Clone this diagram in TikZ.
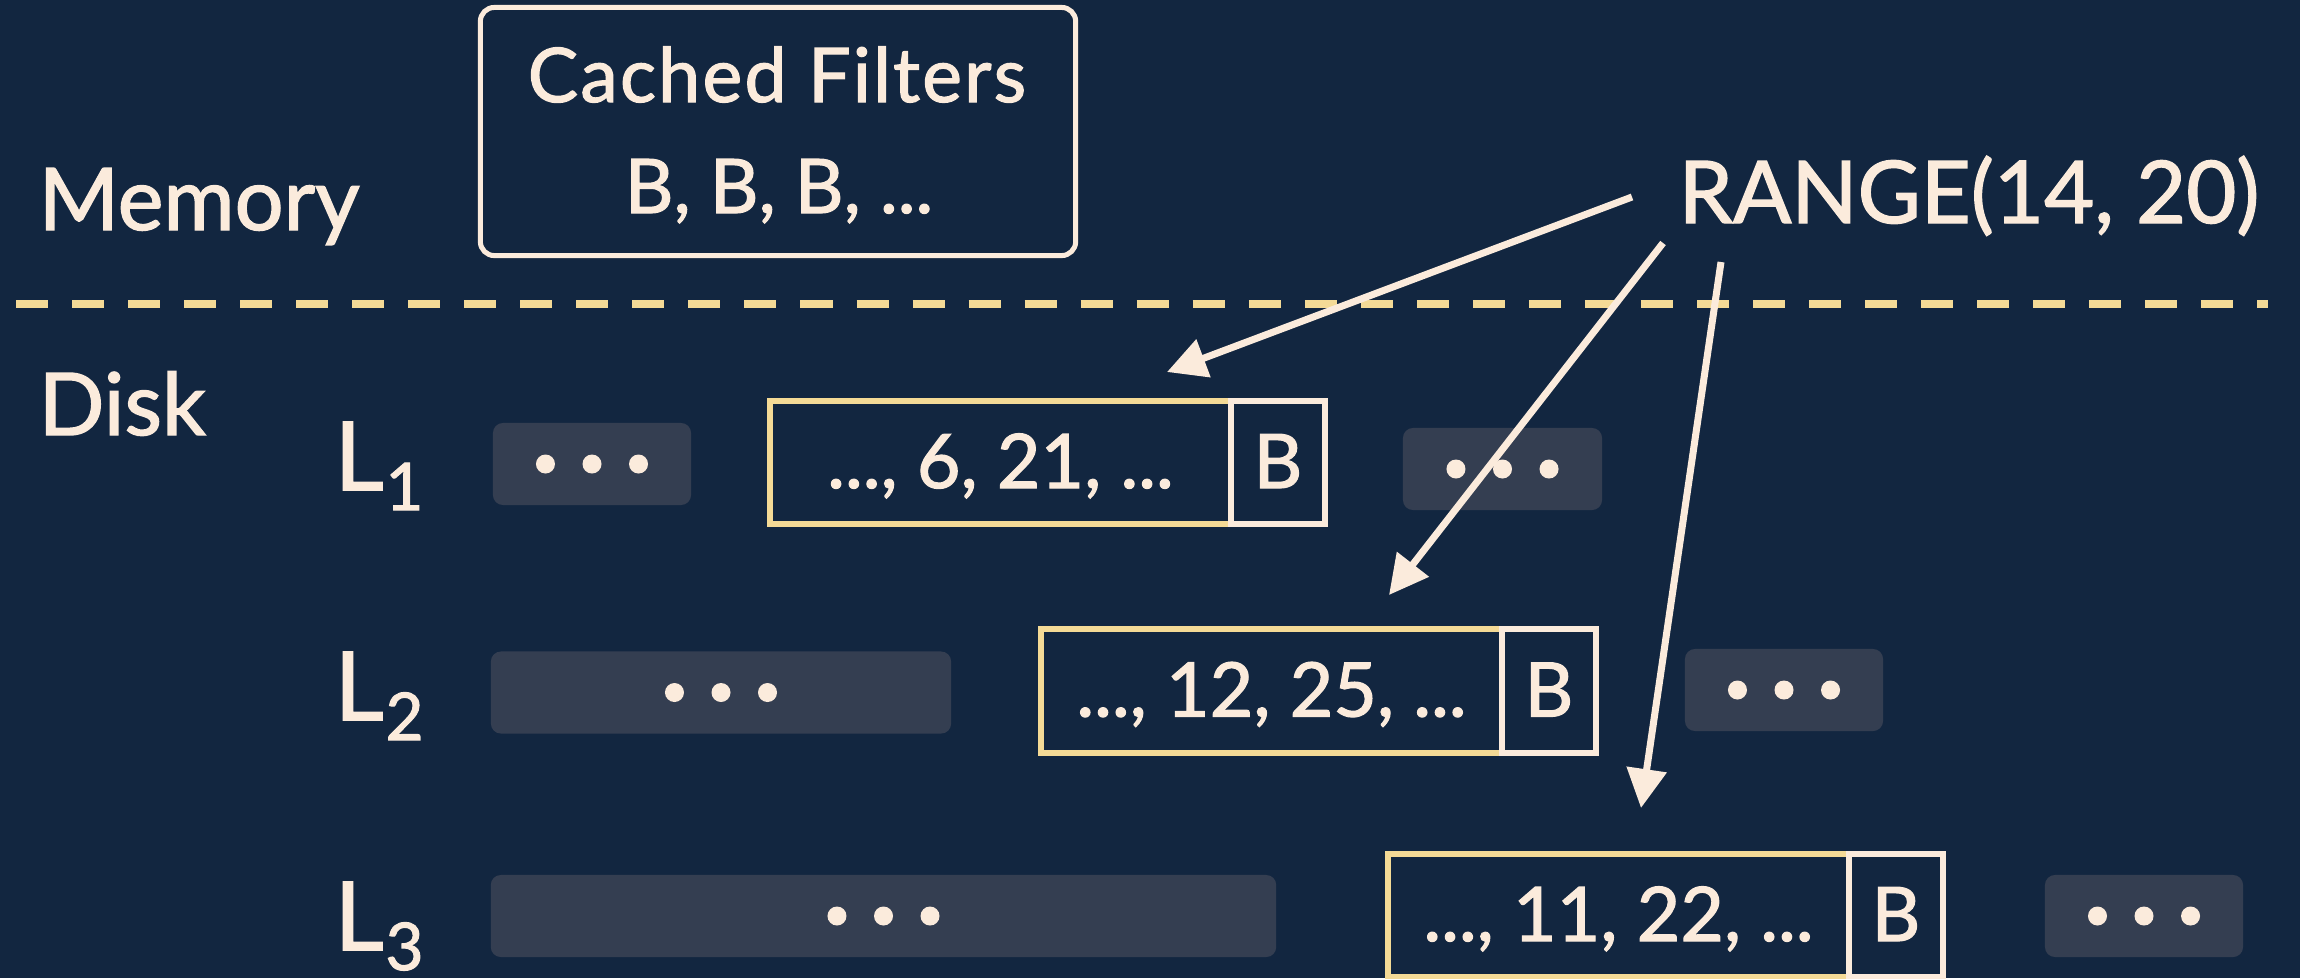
\documentclass[tikz,border=0pt]{standalone}
\usepackage{fontspec}
\setmainfont{Lato}[FakeBold=1.6]
\usetikzlibrary{arrows.meta}

\definecolor{bg}{RGB}{18,38,64}
\definecolor{cream}{RGB}{251,235,220}
\definecolor{gold}{RGB}{244,218,150}
\definecolor{slab}{RGB}{52,62,81}

\newcommand\lblsize{\fontsize{24.6}{29}\selectfont}
\newcommand\cellsize{\fontsize{21.4}{26}\selectfont}
\newcommand\levsize{\fontsize{27}{32}\selectfont}
\newcommand\subsize{\fontsize{18.7}{22}\selectfont}

\tikzset{
  lbl/.style={inner sep=0pt, anchor=base west, text=cream, font=\lblsize},
  lev/.style={inner sep=0pt, anchor=base west, text=cream, font=\levsize},
  celltext/.style={inner sep=0pt, anchor=base, text=cream, font=\cellsize},
  valcell/.style={draw=gold, line width=0.06cm, fill=bg, minimum width=4.61cm,
    minimum height=1.23cm, inner sep=0pt, text=cream, font=\cellsize,
    text height=0.55cm, text depth=0.04cm},
  bcell/.style={valcell, draw=cream, minimum width=0.94cm},
  slabbox/.style={fill=slab, rounded corners=0.1cm, minimum height=0.82cm,
    inner sep=0pt,
    path picture={
      \foreach \k in {-1,0,1}
        \fill[cream] ([xshift=\k*0.465cm]path picture bounding box.center) circle[radius=0.095cm];
    }},
  cachebox/.style={draw=cream, line width=0.05cm, rounded corners=0.14cm,
    minimum width=5.95cm, minimum height=2.48cm, inner sep=0pt},
  probe/.style={draw=cream, line width=0.07cm,
    -{Triangle[length=0.39cm, width=0.39cm]}},
}

\begin{document}
\begin{tikzpicture}[x=0.01cm, y=-0.01cm]
  \useasboundingbox (0,0) rectangle (2300,978);
  \fill[bg] (0,0) rectangle (2300,978);

  % memory / disk boundary
  \draw[gold, line width=0.08cm, dash pattern=on 0.32cm off 0.24cm] (16,304) -- (2268,304);

  % side labels
  \node[lbl] (mem) at (38,230) {Memory};
  \node[lbl] (disk) at (38,435) {Disk};
  \node[lbl] (range) at (1678,223) {RANGE(14, 20)};

  % filters kept in memory
  \node[cachebox] (cache) at (778,131.5) {};
  \node[celltext] (cachetitle) at (777,102) {\addfontfeatures{LetterSpace=3}Cached Filters};
  \node[celltext] (cachelist) at (779,213) {B, B, B, ...};

  % level labels
  \node[lev] (lev1) at (334,490) {L\kern0.02cm\raisebox{-0.2cm}{\subsize 1}};
  \node[lev] (lev2) at (334,720) {L\kern0.02cm\raisebox{-0.2cm}{\subsize 2}};
  \node[lev] (lev3) at (334,950) {L\kern0.02cm\raisebox{-0.2cm}{\subsize 3}};

  % level 1
  \node[slabbox, minimum width=1.98cm] (l1a) at (592,464) {};
  \node[valcell] (r1) at (1000.5,462.5) {..., 6, 21, ...};
  \node[bcell] (b1) at (1278,462.5) {B};
  \node[slabbox, minimum width=1.99cm] (l1b) at (1502.5,469) {};

  % level 2
  \node[slabbox, minimum width=4.60cm] (l2a) at (721,692.5) {};
  \node[valcell] (r2) at (1271.5,691) {..., 12, 25, ...};
  \node[bcell] (b2) at (1549,691) {B};
  \node[slabbox, minimum width=1.98cm] (l2b) at (1784,690) {};

  % level 3
  \node[slabbox, minimum width=7.85cm] (l3a) at (883.5,916) {};
  \node[valcell] (r3) at (1618.5,915.5) {..., 11, 22, ...};
  \node[bcell] (b3) at (1896,915.5) {B};
  \node[slabbox, minimum width=1.98cm] (l3b) at (2144,916) {};

  % range probes into each level
  \coordinate (q1) at (1632,197);
  \coordinate (q2) at (1663,243);
  \coordinate (q3) at (1721,262);
  \coordinate (t1) at (1167,372);
  \coordinate (t2) at (1389,595);
  \coordinate (t3) at (1641,808);
  \draw[probe] (q1) -- (t1);
  \draw[probe] (q2) -- (t2);
  \draw[probe] (q3) -- (t3);
\end{tikzpicture}
\end{document}
